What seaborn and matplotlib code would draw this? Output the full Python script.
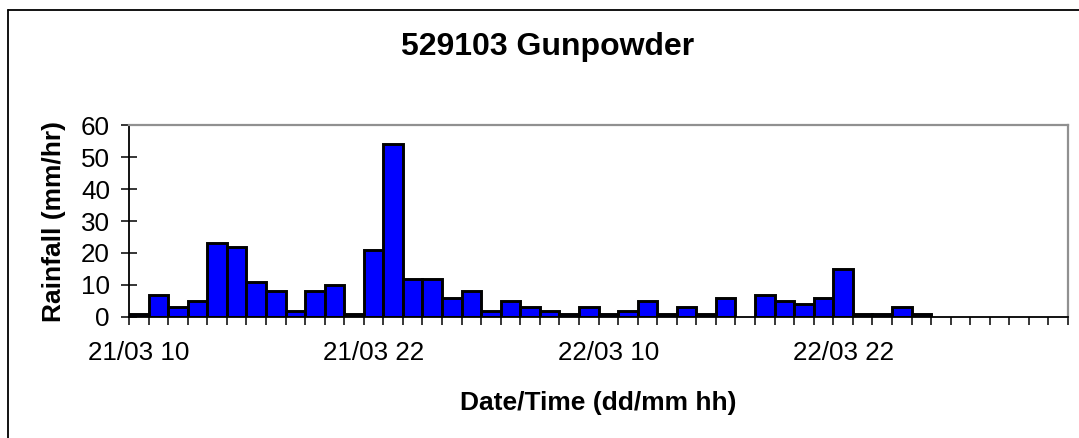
import numpy as np
import pandas as pd
import matplotlib
matplotlib.use("Agg")
from matplotlib import pyplot as plt
from matplotlib.lines import Line2D
import seaborn as sns

# hourly categories, 21/03 10:00 onwards
hours = list(pd.date_range("2001-03-21 10:00", periods=48, freq="h").strftime("%d/%m %H"))
rain = [1, 7, 3, 5, 23, 22, 11, 8, 2, 8, 10, 1, 21, 54, 12, 12, 6, 8, 2, 5,
        3, 2, 1, 3, 1, 2, 5, 1, 3, 1, 6, 0, 7, 5, 4, 6, 15, 1, 1, 3, 1]
tick_labels = ["21/03 10", "21/03 22", "22/03 10", "22/03 22"]
yticks = [0, 10, 20, 30, 40, 50, 60]

df = pd.DataFrame({"hour": hours[:len(rain)], "rain": rain})

sns.set_style("white")
plt.rcParams["font.family"] = ["Liberation Sans", "DejaVu Sans"]
plt.rcParams["text.color"] = "black"
plt.rcParams["axes.labelcolor"] = "black"

fig = plt.figure(figsize=(10.79, 4.38), dpi=100)
ax = fig.add_axes([129/1079, 1-317/438, 939/1079, 192/438])

sns.barplot(data=df, x="hour", y="rain", order=hours, color="#0000FF",
            saturation=1, width=1, edgecolor="black", linewidth=2.1, ax=ax)
for p in ax.patches:
    if p.get_height() == 0:
        p.set_linewidth(0)

ax.set_xlim(-0.5, len(hours) - 0.5)
ax.set_ylim(0, 60)
ax.set_yticks(yticks)
ax.set_yticklabels([str(v) for v in yticks], fontsize=18.7)

# labels on every 12th category, tick marks on category boundaries
ax.set_xticks([hours.index(t) for t in tick_labels])
ax.set_xticklabels(tick_labels, fontsize=18.7)
ax.set_xticks(np.arange(len(hours) + 1) - 0.5, minor=True)

ax.tick_params(axis="y", left=True, direction="inout", length=11.5, width=1.1,
               pad=8, colors="black")
ax.tick_params(axis="x", which="major", bottom=True, length=0, pad=17, colors="black")
ax.tick_params(axis="x", which="minor", bottom=True, direction="out", length=5.8,
               width=1.1, colors="black")

for s in ["top", "right"]:
    ax.spines[s].set_color("#909090")
    ax.spines[s].set_linewidth(1.6)
for s in ["left", "bottom"]:
    ax.spines[s].set_color("black")
    ax.spines[s].set_linewidth(1.3)

ax.set_xlabel("Date/Time (dd/mm hh)", fontsize=19, fontweight="bold", color="black")
ax.xaxis.set_label_coords(0.5, -0.385)
ax.xaxis.label.set_va("top")
ax.set_ylabel("Rainfall (mm/hr)", fontsize=19, fontweight="bold", color="black")
ax.yaxis.set_label_coords(-0.067, 0.5)

fig.text(547.5/1079, 1-47/438, "529103 Gunpowder", fontsize=23, fontweight="bold",
         ha="center", va="center", color="black")

# outer chart frame (left and top edges visible)
fig.add_artist(Line2D([8/1079, 8/1079], [0, 1-10/438], color="black", lw=1.3,
                      transform=fig.transFigure))
fig.add_artist(Line2D([8/1079, 1], [1-10/438, 1-10/438], color="black", lw=1.3,
                      transform=fig.transFigure))

fig.savefig("out.png", dpi=100)
